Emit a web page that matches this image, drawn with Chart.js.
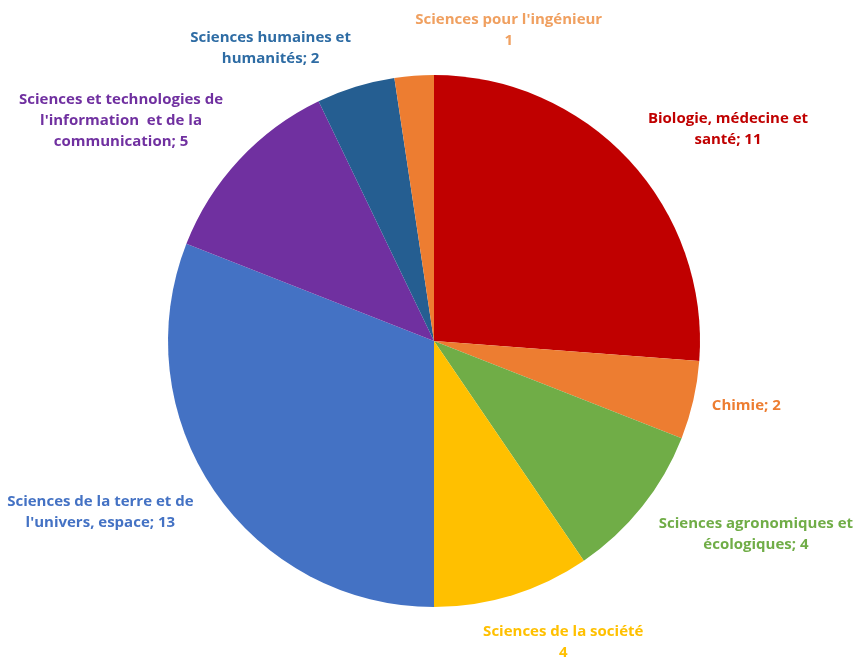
<!DOCTYPE html>
<html lang="fr">
<head>
    <meta charset="UTF-8">
    <title>Répartition par domaine</title>
    <script src="https://cdn.jsdelivr.net/npm/chart.js"></script>
    <style>
        body, html {
            margin: 0;
            padding: 0;
            background-color: #ffffff;
        }

        .chart-container {
            width: 854px;
            height: 658px;
        }
    </style>
</head>
<body>
    <div class="chart-container">
        <canvas id="pieChart"></canvas>
    </div>

    <script>
        // Données
        const categories = [
            ['Biologie, médecine et', 'santé; 11'],
            ['Chimie; 2'],
            ['Sciences agronomiques et', 'écologiques; 4'],
            ['Sciences de la société', '4'],
            ['Sciences de la terre et de', "l'univers, espace; 13"],
            ['Sciences et technologies de', "l'information  et de la", 'communication; 5'],
            ['Sciences humaines et', 'humanités; 2'],
            ["Sciences pour l'ingénieur", '1']
        ];
        const values = [11, 2, 4, 4, 13, 5, 2, 1];

        const sliceColors = ['#c00000', '#ed7d31', '#70ad47', '#ffc000', '#4472c4', '#7030a0', '#255e91', '#ed7d31'];
        const labelColors = ['#c00000', '#ed7d31', '#70ad47', '#ffc000', '#4472c4', '#7030a0', '#2e6ca4', '#f0a060'];

        // petits décalages manuels des étiquettes (comme dans Excel)
        const labelNudge = [[5, 3], [0, -3], [2, -5], [-2, 8], [-5, -10], [-2, 5], [-32, 1], [110, -6]];

        // Étiquettes à l'extérieur des parts
        const outsideLabels = {
            id: 'outsideLabels',
            afterDatasetsDraw(chart) {
                const ctx = chart.ctx;
                const meta = chart.getDatasetMeta(0);
                const lineH = 21;
                const gap = 19;
                ctx.save();
                ctx.font = 'bold 15px "Open Sans", sans-serif';
                ctx.textAlign = 'center';
                ctx.textBaseline = 'middle';
                meta.data.forEach((arc, i) => {
                    const p = arc.getProps(['x', 'y', 'startAngle', 'endAngle', 'outerRadius'], true);
                    const mid = (p.startAngle + p.endAngle) / 2;
                    const dx = Math.cos(mid), dy = Math.sin(mid);
                    const ax = p.x + (p.outerRadius + gap) * dx;
                    const ay = p.y + (p.outerRadius + gap) * dy;
                    const lines = categories[i];
                    const w = Math.max(...lines.map(l => ctx.measureText(l).width));
                    const h = lines.length * lineH;
                    const sx = Math.max(-1, Math.min(1, dx * 2));
                    const sy = Math.max(-1, Math.min(1, dy * 2));
                    const cx = ax + sx * w / 2 + labelNudge[i][0];
                    const cy = ay + sy * h / 2 + labelNudge[i][1];
                    ctx.fillStyle = labelColors[i];
                    lines.forEach((l, j) => {
                        ctx.fillText(l, cx, cy - h / 2 + lineH * (j + 0.5));
                    });
                });
                ctx.restore();
            }
        };

        new Chart(document.getElementById('pieChart').getContext('2d'), {
            type: 'pie',
            data: {
                labels: categories.map(c => c.join(' ')),
                datasets: [{
                    data: values,
                    backgroundColor: sliceColors,
                    borderWidth: 0
                }]
            },
            options: {
                responsive: true,
                maintainAspectRatio: false,
                animation: false,
                layout: {
                    padding: { top: 75, bottom: 51, left: 168, right: 154 }
                },
                plugins: {
                    legend: { display: false },
                    tooltip: { enabled: false }
                }
            },
            plugins: [outsideLabels]
        });
    </script>
</body>
</html>
